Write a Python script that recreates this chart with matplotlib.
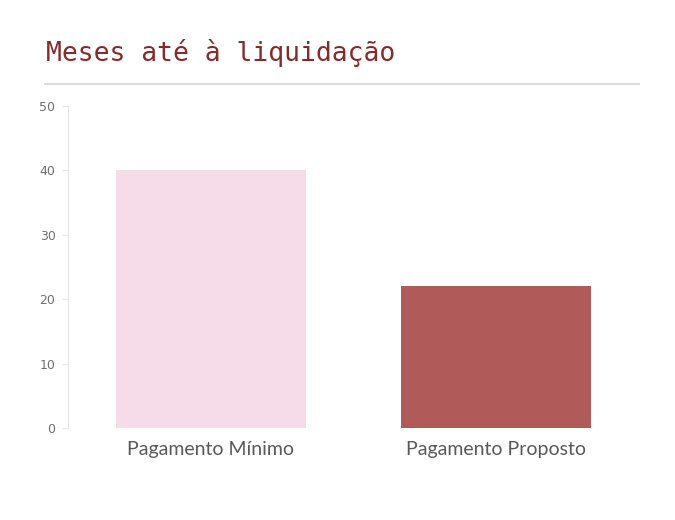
import matplotlib
matplotlib.use("Agg")
import matplotlib.pyplot as plt
from matplotlib.lines import Line2D

categories = ["Pagamento Mínimo", "Pagamento Proposto"]
months = [40, 22]
bar_colors = ["#F6DBE8", "#B05A5A"]
yticks = [0, 10, 20, 30, 40, 50]

fig = plt.figure(figsize=(6.75, 5.2), dpi=100)
ax = fig.add_axes([68/675, 1-428/520, (639-68)/675, (428-106)/520])

x = range(len(categories))
ax.bar(x, months, width=0.665, color=bar_colors)
ax.set_xlim(-0.5, 1.5)
ax.set_ylim(0, 50)
ax.set_yticks(yticks)
ax.set_xticks(list(x))
ax.set_xticklabels(categories, fontsize=14, color="#595959", family="Lato")
ax.tick_params(axis="x", length=0, pad=9)
ax.tick_params(axis="y", length=4, color="#E6E6E6", labelsize=9, labelcolor="#6E6E6E", pad=5)
for s in ["top", "right", "bottom"]:
    ax.spines[s].set_visible(False)
ax.spines["left"].set_color("#E6E6E6")

# title and rule under it
fig.text(46/675, 1-53/520, "Meses até à liquidação", fontsize=19,
         family="DejaVu Sans Mono", color="#842B2B", va="center", ha="left")
fig.add_artist(Line2D([45/675, 639/675], [1-84/520, 1-84/520],
                      transform=fig.transFigure, color="#DCDCDC", lw=1.5))

fig.savefig("out.png", dpi=100)
